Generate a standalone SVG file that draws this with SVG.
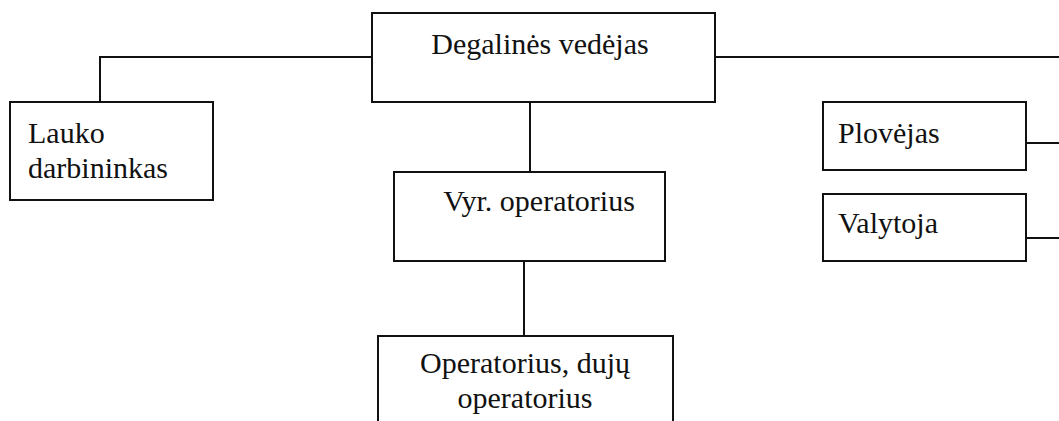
<svg xmlns="http://www.w3.org/2000/svg" width="1059" height="421" viewBox="0 0 1059 421">
  <style>
    .box { fill: #ffffff; stroke: #111111; stroke-width: 2; }
    .link { fill: none; stroke: #111111; stroke-width: 2; }
    .label { font-family: "Liberation Serif", "Times New Roman", serif; font-size: 30px; fill: #111111; }
    .mid { text-anchor: middle; }
  </style>
  <rect width="1059" height="421" fill="#ffffff"/>

  <g id="connectors">
    <polyline class="link" points="372,57 100,57 100,102"/>
    <line class="link" x1="715" y1="57" x2="1059" y2="57"/>
    <line class="link" x1="530" y1="101" x2="530" y2="172"/>
    <line class="link" x1="524" y1="261" x2="524" y2="336"/>
    <line class="link" x1="1026" y1="143" x2="1059" y2="143"/>
    <line class="link" x1="1026" y1="238" x2="1059" y2="238"/>
  </g>

  <g id="degalines-vedejas">
    <rect class="box" x="372" y="13" width="343" height="89"/>
    <text class="label mid" x="540" y="54">Degalinės vedėjas</text>
  </g>

  <g id="lauko-darbininkas">
    <rect class="box" x="10" y="102" width="203" height="98"/>
    <text class="label" x="28" y="143">Lauko</text>
    <text class="label" x="28" y="178">darbininkas</text>
  </g>

  <g id="vyr-operatorius">
    <rect class="box" x="394" y="172" width="271" height="89"/>
    <text class="label mid" x="539" y="211">Vyr. operatorius</text>
  </g>

  <g id="operatorius">
    <path class="box" d="M378,423 V336 H673 V423"/>
    <text class="label mid" x="525" y="373">Operatorius, dujų</text>
    <text class="label mid" x="525" y="408">operatorius</text>
  </g>

  <g id="plovejas">
    <rect class="box" x="823" y="102" width="203" height="68"/>
    <text class="label" x="838" y="143">Plovėjas</text>
  </g>

  <g id="valytoja">
    <rect class="box" x="823" y="194" width="203" height="67"/>
    <text class="label" x="838" y="233">Valytoja</text>
  </g>
</svg>
